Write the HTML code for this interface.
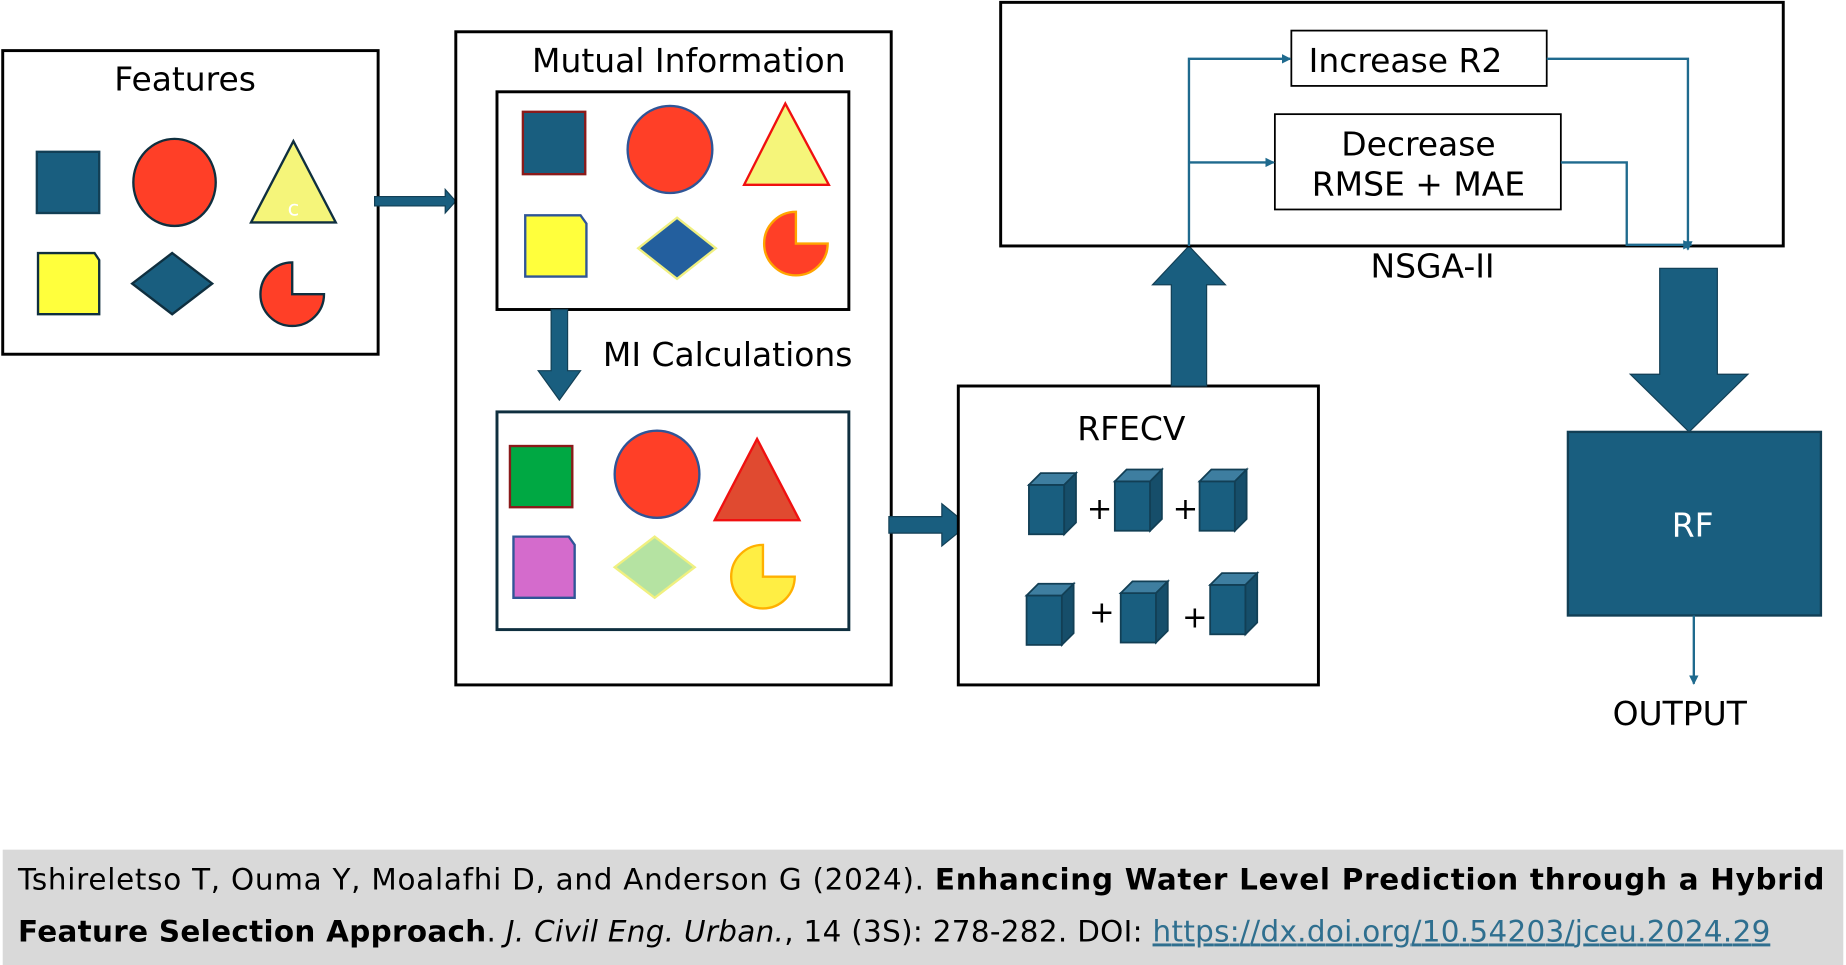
<!DOCTYPE html>
<html><head><meta charset="utf-8"><style>
html,body{margin:0;padding:0;background:#fff;}
svg{display:block;}
text{font-family:"DejaVu Sans","Liberation Sans",sans-serif;}
</style></head><body>
<svg width="1846" height="965" viewBox="0 0 1568 820" xmlns="http://www.w3.org/2000/svg">
<defs>
<marker id="ah" markerWidth="8" markerHeight="8" refX="7" refY="4" orient="auto" markerUnits="userSpaceOnUse"><path d="M0,0 L8,4 L0,8 z" fill="#1f6a8e"/></marker>
<g id="cube"><rect x="0" y="10" width="30" height="42" fill="#195e7f" stroke="#123f55" stroke-width="1.5"/><path d="M0,10 L10,0 L40,0 L30,10 z" fill="#3e7ea0" stroke="#123f55" stroke-width="1.5"/><path d="M30,10 L40,0 L40,42 L30,52 z" fill="#164e6a" stroke="#123f55" stroke-width="1.5"/></g>
</defs>
<rect width="1568" height="820" fill="#fff"/>

<rect x="2" y="43" width="319" height="258" fill="#fff" stroke="#000" stroke-width="2.5"/>
<text x="157" y="77" font-size="28" text-anchor="middle">Features</text>
<rect x="31" y="129" width="53" height="52" fill="#195e7f" stroke="#123f55" stroke-width="2"/>
<ellipse cx="148" cy="155" rx="35" ry="37" fill="#ff3f27" stroke="#0f2f3f" stroke-width="2"/>
<path d="M249,120 L213,189 L285,189 z" fill="#f5f57a" stroke="#0f2f3f" stroke-width="2"/>
<text x="249" y="183" font-size="18" fill="#fff" text-anchor="middle">c</text>
<path d="M32,215 L80,215 L84,221 L84,267 L32,267 z" fill="#ffff3c" stroke="#0f2f3f" stroke-width="2"/>
<path d="M146,215 L180,241 L146,267 L112,241 z" fill="#195e7f" stroke="#0f2f3f" stroke-width="2"/>
<path d="M248,223 A27,27 0 1,0 275,250 L248,250 z" fill="#ff3f27" stroke="#0f2f3f" stroke-width="2"/>

<path d="M318,167 L378,167 L378,161 L387,171 L378,181 L378,175 L318,175 z" fill="#195e7f" stroke="#123f55" stroke-width="1"/>

<rect x="387" y="27" width="370" height="555" fill="#fff" stroke="#000" stroke-width="2.5"/>
<text x="585" y="61" font-size="28" text-anchor="middle">Mutual Information</text>
<rect x="422" y="78" width="299" height="185" fill="#fff" stroke="#000" stroke-width="2.5"/>
<rect x="444" y="95" width="53" height="53" fill="#195e7f" stroke="#8b1a1a" stroke-width="2"/>
<ellipse cx="569" cy="127" rx="36" ry="37" fill="#ff3f27" stroke="#2f5597" stroke-width="2"/>
<path d="M667,88 L632,157 L704,157 z" fill="#f5f57a" stroke="#f01010" stroke-width="2"/>
<path d="M446,183 L493,183 L498,190 L498,235 L446,235 z" fill="#ffff3c" stroke="#2f5597" stroke-width="2"/>
<path d="M575,185 L608,211 L575,237 L542,211 z" fill="#235f9e" stroke="#f0f080" stroke-width="2"/>
<path d="M676,180 A27,27 0 1,0 703,207 L676,207 z" fill="#ff3f27" stroke="#ffa500" stroke-width="2"/>

<path d="M468,263 L482,263 L482,315 L493,315 L475,340 L457,315 L468,315 z" fill="#195e7f" stroke="#123f55" stroke-width="1"/>
<text x="512" y="311" font-size="28">MI Calculations</text>

<rect x="422" y="350" width="299" height="185" fill="#fff" stroke="#0f2f3f" stroke-width="2.5"/>
<rect x="433" y="379" width="53" height="52" fill="#00a843" stroke="#8b1a1a" stroke-width="2"/>
<ellipse cx="558" cy="403" rx="36" ry="37" fill="#ff3f27" stroke="#2f5597" stroke-width="2"/>
<path d="M643,373 L607,442 L679,442 z" fill="#e04a30" stroke="#f01010" stroke-width="2"/>
<path d="M436,456 L483,456 L488,463 L488,508 L436,508 z" fill="#d46bcc" stroke="#2f5597" stroke-width="2"/>
<path d="M556,456 L590,482 L556,508 L522,482 z" fill="#b5e3a2" stroke="#f0f080" stroke-width="2"/>
<path d="M648,463 A27,27 0 1,0 675,490 L648,490 z" fill="#ffee44" stroke="#ffb000" stroke-width="2"/>

<path d="M755,439 L800,439 L800,428 L822,446 L800,464 L800,453 L755,453 z" fill="#195e7f" stroke="#123f55" stroke-width="1"/>

<rect x="814" y="328" width="306" height="254" fill="#fff" stroke="#000" stroke-width="2.5"/>
<text x="961" y="374" font-size="28" text-anchor="middle">RFECV</text>
<use href="#cube" x="874" y="402"/>
<use href="#cube" x="947" y="399"/>
<use href="#cube" x="1019" y="399"/>
<use href="#cube" x="872" y="496"/>
<use href="#cube" x="952" y="494"/>
<use href="#cube" x="1028" y="487"/>
<text x="934" y="441" font-size="26" text-anchor="middle">+</text>
<text x="1007" y="441" font-size="26" text-anchor="middle">+</text>
<text x="936" y="529" font-size="26" text-anchor="middle">+</text>
<text x="1015" y="533" font-size="26" text-anchor="middle">+</text>

<path d="M995,328 L995,242 L979,242 L1010,209 L1041,242 L1025,242 L1025,328 z" fill="#195e7f" stroke="#123f55" stroke-width="1"/>

<rect x="850" y="2" width="665" height="207" fill="none" stroke="#000" stroke-width="2.5"/>
<rect x="1097" y="26" width="217" height="47" fill="#fff" stroke="#000" stroke-width="1.5"/>
<text x="1194" y="61" font-size="28" text-anchor="middle">Increase R2</text>
<rect x="1083" y="97" width="243" height="81" fill="#fff" stroke="#000" stroke-width="1.5"/>
<text x="1205" y="132" font-size="28" text-anchor="middle">Decrease</text>
<text x="1205" y="166" font-size="28" text-anchor="middle">RMSE + MAE</text>
<g fill="none" stroke="#1f6a8e" stroke-width="2">
<path d="M1010,209 L1010,50 L1096,50" marker-end="url(#ah)"/>
<path d="M1010,138 L1082,138" marker-end="url(#ah)"/>
<path d="M1314,50 L1434,50 L1434,212" marker-end="url(#ah)"/>
<path d="M1326,138 L1382,138 L1382,208 L1437,208" marker-end="url(#ah)"/>
</g>
<text x="1217" y="236" font-size="28" text-anchor="middle">NSGA-II</text>

<path d="M1410,228 L1459,228 L1459,318 L1485,318 L1435,367 L1385,318 L1410,318 z" fill="#195e7f" stroke="#123f55" stroke-width="1"/>
<rect x="1332" y="367" width="215" height="156" fill="#195e7f" stroke="#123f55" stroke-width="2"/>
<text x="1438" y="456" font-size="28" fill="#fff" text-anchor="middle">RF</text>
<path d="M1439,523 L1439,581" stroke="#1f6a8e" stroke-width="2" fill="none" marker-end="url(#ah)"/>
<text x="1427" y="616" font-size="28" text-anchor="middle">OUTPUT</text>

<rect x="2" y="722" width="1564" height="98" fill="#d9d9d9"/>
<text x="15" y="756" font-size="25" textLength="1535" lengthAdjust="spacing">Tshireletso T, Ouma Y, Moalafhi D, and Anderson G (2024). <tspan font-weight="bold">Enhancing Water Level Prediction through a Hybrid</tspan></text>
<text x="15" y="800" font-size="25" textLength="1489" lengthAdjust="spacing"><tspan font-weight="bold">Feature Selection Approach</tspan>. <tspan font-style="italic">J. Civil Eng. Urban.</tspan>, 14 (3S): 278-282. DOI: <tspan fill="#2f6f8f" text-decoration="underline">https://dx.doi.org/10.54203/jceu.2024.29</tspan></text>
</svg>
</body></html>
